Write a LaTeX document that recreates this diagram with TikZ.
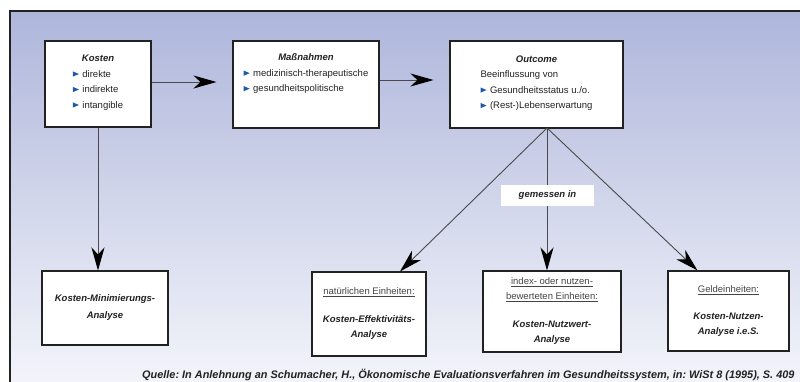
\documentclass[tikz,border=0pt]{standalone}
\usepackage{fontspec}
\setmainfont{Liberation Sans}
\usepackage{tikz}
\usetikzlibrary{arrows.meta,positioning,calc}
\definecolor{BgTop}{HTML}{AEB6DB}
\definecolor{BgBottom}{HTML}{F5F6FB}
\definecolor{LineGray}{HTML}{4A4A4A}
\definecolor{TextDark}{HTML}{222222}
\definecolor{UnitGray}{HTML}{444444}
\definecolor{BulletBlue}{HTML}{1E5AAA}
\newcommand{\tribul}{\tikz[baseline=0pt]\fill[BulletBlue] (0pt,0.6pt) -- (6pt,3.2pt) -- (0pt,5.8pt) -- cycle;\hspace{3.5pt}}
\newcommand{\bi}[1]{\textbf{\textit{#1}}}
\newcommand{\unitul}[1]{{\color{UnitGray}\underline{#1}}}
\frenchspacing

\begin{document}
\begin{tikzpicture}[
    x=1pt, y=-1pt,
    font=\fontsize{9.5}{15.5}\selectfont,
    box/.style={draw=TextDark, line width=1.1pt, fill=white, inner sep=0pt, align=center, text=TextDark},
    arr/.style={-{Stealth[length=23pt,width=13pt,inset=7pt,color=black]}, line width=0.9pt, draw=LineGray}
]
\useasboundingbox (0,0) rectangle (800,381);
% background panel
\fill[top color=BgTop, bottom color=BgBottom] (10,11) rectangle (812,392);
\draw[line width=1.1pt, draw=TextDark] (10,400) -- (10,11) -- (812,11);

% upper row
\node[box, minimum width=106pt, minimum height=86pt] (kosten) at (98,84)
  {\bi{Kosten}\\\begin{tabular}[t]{@{}l@{}}\tribul direkte\\\tribul indirekte\\\tribul intangible\end{tabular}};
\node[box, minimum width=146pt, minimum height=87pt] (mass) at (306,84.5)
  {\bi{Maßnahmen}\\\begin{tabular}[t]{@{}l@{}}\tribul medizinisch-therapeutische\\\tribul gesundheitspolitische\\[3pt]\mbox{}\end{tabular}};
\node[box, minimum width=173pt, minimum height=87pt] (outcome) at (536.5,84.5)
  {\bi{Outcome}\\\begin{tabular}[t]{@{}l@{}}Beeinflussung von\\\tribul Gesundheitsstatus u./o.\\\tribul (Rest-)Lebenserwartung\end{tabular}};

% lower row
\node[box, minimum width=126pt, minimum height=74pt, font=\fontsize{9.5}{17.5}\selectfont] (kma) at (105,308)
  {\mbox{}\\[-11.5pt]\bi{Kosten-Minimierungs-}\\\bi{Analyse}};
\node[box, minimum width=114pt, minimum height=84pt] (nat) at (369,314)
  {\unitul{natürlichen Einheiten:}\\[12pt]\bi{Kosten-Effektivitäts-}\\\bi{Analyse}};
\node[box, minimum width=138pt, minimum height=81pt] (idx) at (552,311.5)
  {\mbox{}\\[-9.5pt]\unitul{index- oder nutzen-}\\\unitul{bewerteten Einheiten:}\\[12pt]\bi{Kosten-Nutzwert-}\\\bi{Analyse}};
\node[box, minimum width=121pt, minimum height=80pt] (geld) at (728.5,311)
  {\unitul{Geldeinheiten:}\\[11.5pt]\bi{Kosten-Nutzen-}\\\bi{Analyse i.e.S.}};

\coordinate (apex) at (547,128);

% connectors
\draw[arr, shorten >=16pt] (kosten.east |- 0,82) -- (mass.west |- 0,82);
\draw[arr, shorten >=16pt] (mass.east |- 0,80) -- (outcome.west |- 0,80);
\draw[arr] (kosten.south) -- (kosten.south |- kma.north);
\draw[arr] (apex) -- ($(nat.north)+(31,0)$);
\draw[arr] (apex) -- (apex |- idx.north);
\draw[arr] (apex) -- ($(geld.north)+(-31,0)$);

\node[fill=white, minimum width=93pt, minimum height=21pt, inner sep=0pt, text=TextDark] (gem) at (547.5,195.5) {\bi{gemessen in}};

\node[anchor=base east, font=\fontsize{10.9}{12}\selectfont\bfseries\itshape, text=TextDark] (quelle) at (798,378.2)
  {Quelle: In Anlehnung an Schumacher, H., Ökonomische Evaluationsverfahren im Gesundheitssystem, in: WiSt 8 (1995), S. 409};
\end{tikzpicture}
\end{document}
